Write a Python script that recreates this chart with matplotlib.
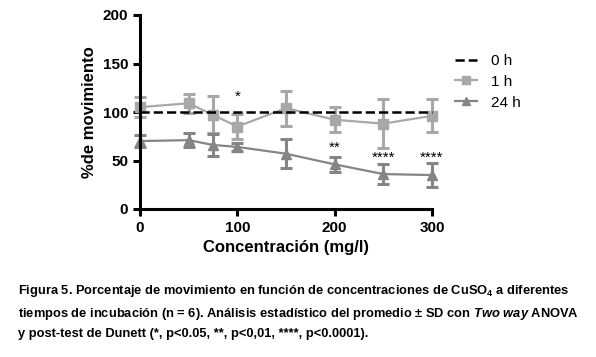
import matplotlib
matplotlib.use("Agg")
import matplotlib.pyplot as plt
from matplotlib.lines import Line2D

plt.rcParams['font.family'] = ['Liberation Sans', 'DejaVu Sans']
plt.rcParams['mathtext.fontset'] = 'custom'
plt.rcParams['mathtext.rm'] = 'Liberation Sans:bold'
plt.rcParams['mathtext.it'] = 'Liberation Sans:italic:bold'
plt.rcParams['mathtext.bf'] = 'Liberation Sans:bold'

conc = [0, 50, 75, 100, 150, 200, 250, 300]
h1 = [105, 109, 97, 85, 104, 92, 88, 96]
h1_sd = [10, 10, 19, 13, 18, 13, 25, 17]
h24 = [70, 71, 66, 64, 57, 46, 36, 35]
h24_sd = [6, 7, 11, 4, 15, 8, 10, 12]
h0 = [100, 100]
h0_x = [0, 300]
stars = ["", "", "", "*", "", "**", "****", "****"]
star_y = [0, 0, 0, 108, 0, 56, 46, 46]

fig = plt.figure(figsize=(5.96, 3.57), dpi=100)
ax = fig.add_axes([140/596, 1-209/357, 292/596, 194/357])

c1 = '#a8a8a8'
c24 = '#858585'
ax.plot(h0_x, h0, '--', color='black', lw=1.8, zorder=3)
ax.errorbar(conc, h1, yerr=h1_sd, color=c1, marker='s', ms=7, lw=1.6,
            elinewidth=2.2, capsize=4, capthick=2.2, zorder=2)
ax.errorbar(conc, h24, yerr=h24_sd, color=c24, marker='^', ms=7, lw=1.6,
            elinewidth=2.2, capsize=4, capthick=2.2, zorder=2)
for x, s, y in zip(conc, stars, star_y):
    if s:
        ax.text(x, y, s, ha='center', va='bottom', fontsize=11)

ax.set_xlim(0, 300)
ax.set_ylim(0, 200)
ax.set_xticks([0, 100, 200, 300])
ax.set_yticks([0, 50, 100, 150, 200])
for sp in ['top', 'right']:
    ax.spines[sp].set_visible(False)
for sp in ['left', 'bottom']:
    ax.spines[sp].set_linewidth(2.2)
ax.tick_params(width=2.2, length=5, labelsize=11, direction='out')
for lab in ax.get_xticklabels() + ax.get_yticklabels():
    lab.set_fontweight('bold')
ax.set_xlabel('Concentración (mg/l)', fontsize=12, fontweight='bold', labelpad=4)
ax.set_ylabel('%de movimiento', fontsize=12, fontweight='bold', labelpad=4)
for artist in ax.get_children():
    try:
        artist.set_clip_on(False)
    except Exception:
        pass

handles = [
    Line2D([], [], color='black', ls='--', lw=1.8),
    Line2D([], [], color=c1, marker='s', ms=6, lw=1.6),
    Line2D([], [], color=c24, marker='^', ms=6, lw=1.6),
]
ax.legend(handles, ['0 h', '1 h', '24 h'], loc='upper left',
          bbox_to_anchor=(1.03, 0.87), frameon=False,
          fontsize=11, handlelength=1.5, labelspacing=0.45, handletextpad=0.9)

caption = ("Figura 5. Porcentaje de movimiento en función de concentraciones de CuSO$_4$ a diferentes\n"
           "tiempos de incubación (n = 6). Análisis estadístico del promedio ± SD con $\\it{Two\\ way}$ ANOVA\n"
           "y post-test de Dunett (*, p<0.05, **, p<0,01, ****, p<0.0001).")
fig.text(18/596, 1-283/357, caption, ha='left', va='top', fontsize=9.3,
         fontweight='bold', linespacing=1.65)

fig.savefig('out.png', dpi=100)
